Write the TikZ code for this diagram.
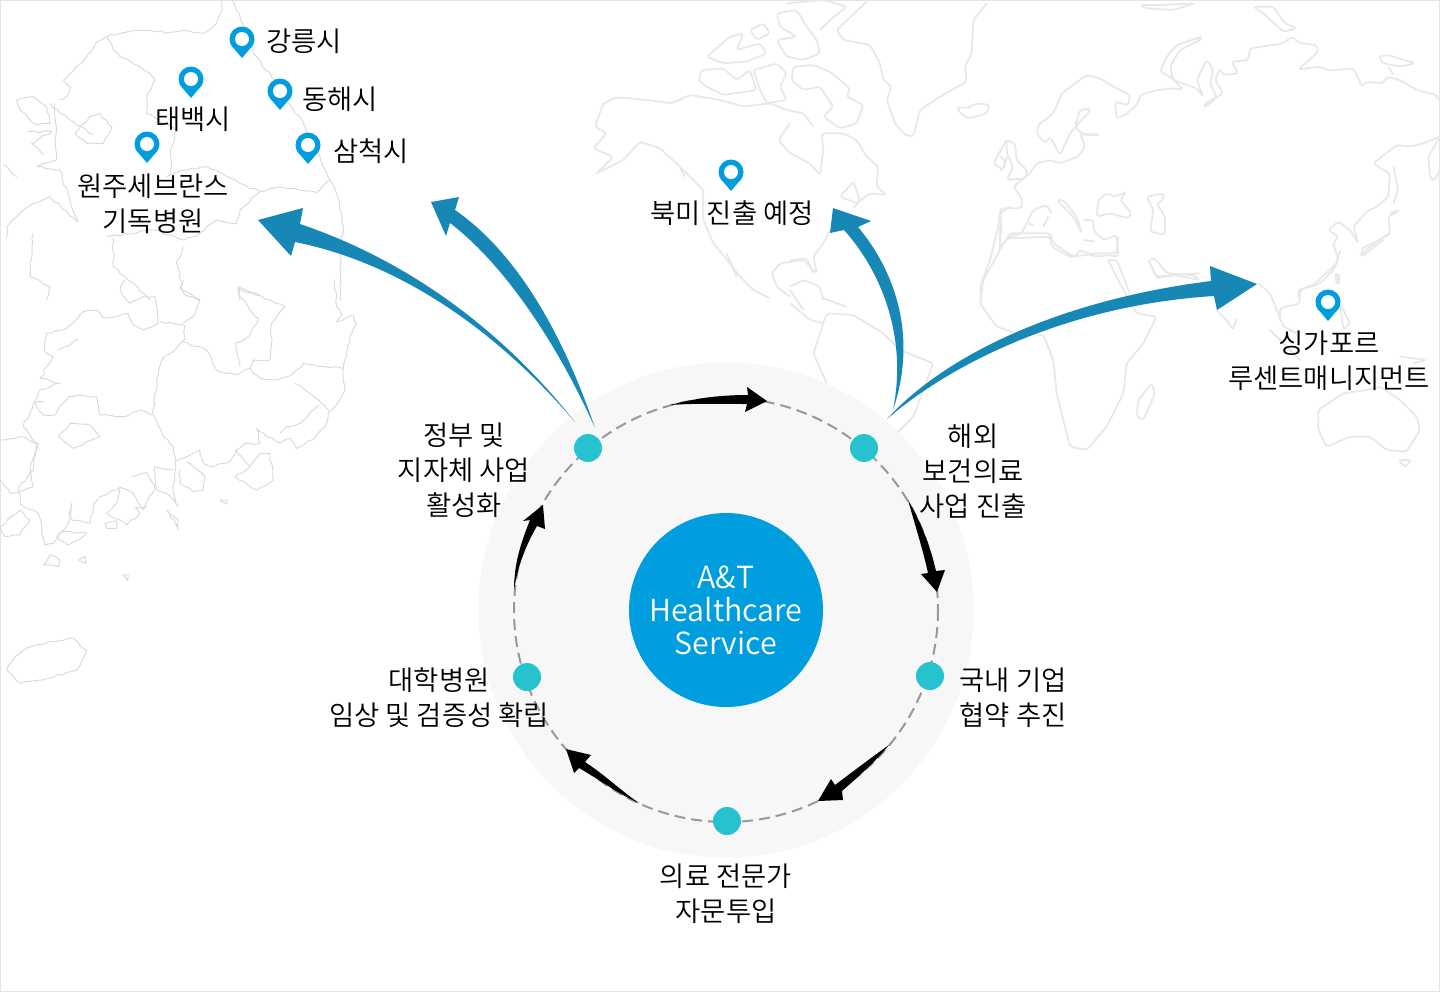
\documentclass[tikz,border=0pt]{standalone}
\usepackage{fontspec}
\usetikzlibrary{decorations.pathmorphing}
\newfontfamily\krfont{Noto Sans CJK KR DemiLight}
\definecolor{hubblue}{HTML}{009DDF}
\definecolor{flowblue}{HTML}{1787B5}
\definecolor{dotteal}{HTML}{26C3CE}
\definecolor{palegray}{HTML}{F7F7F7}
\definecolor{ringgray}{HTML}{999999}
\definecolor{worldgray}{HTML}{E8E8E8}
\definecolor{koreagray}{HTML}{D8D8D8}
\tikzset{
  worldline/.style={draw=worldgray,line width=0.9pt,line join=round,rounded corners=1.5pt},
  korealine/.style={draw=koreagray,line width=0.45pt,line join=round,decorate,decoration={random steps,segment length=2.5pt,amplitude=0.6pt}},
  flowarrow/.style={fill=flowblue},
  turnarrow/.style={fill=black},
  stopdot/.style={circle,fill=dotteal,minimum size=14pt,inner sep=0pt},
  txt/.style={font=\krfont\fontsize{13.7}{17.6}\selectfont,align=center,inner sep=0pt},
  mappin/.pic={
    \fill[hubblue] (0,0) circle [radius=12.5];
    \fill[hubblue] (-10.8,6.3) -- (0,19) -- (10.8,6.3) -- cycle;
    \fill[white] (0,0) circle [radius=7];
  }
}
\begin{document}
\begin{tikzpicture}[x=0.5pt,y=-0.5pt]
  \useasboundingbox (0,0) rectangle (1440,992);
  \fill[white] (0,0) rectangle (1440,992);
  \draw[draw=koreagray!70,line width=0.6pt] (0.5,0.5) rectangle (1439.5,991.5);

  \begin{scope}[shift={(0,0)},scale=1/3]
    \draw[korealine] (665,0) -- (668,30) -- (650,70) -- (610,100) -- (560,92) -- (510,97) -- (420,90) -- (320,110) -- (290,125) -- (260,170) -- (190,240) -- (212,262) -- (205,285) -- (180,300);
    \draw[korealine] (695,0) -- (720,50) -- (760,160) -- (830,250) -- (915,380) -- (960,470) -- (990,540) -- (1010,580) -- (1030,680) -- (1020,770) -- (1020,900);
    \draw[korealine] (320,110) -- (340,150) -- (360,170) -- (420,200) -- (465,240) -- (440,290) -- (440,340) -- (490,370) -- (530,390) -- (515,440) -- (510,520);
    \draw[korealine] (150,310) -- (180,340) -- (280,405);
    \draw[korealine] (225,400) -- (270,350) -- (300,340) -- (335,380) -- (310,430) -- (260,430) -- (225,400);
    \draw[korealine] (50,300) -- (100,290) -- (140,320) -- (150,370) -- (110,375) -- (60,330) -- cycle;
    \draw[korealine] (165,310) -- (170,480) -- (110,500) -- (180,510) -- (210,600) -- (232,665) -- (150,590) -- (100,610) -- (60,640) -- (20,680) -- (20,715);
    \draw[korealine] (85,395) -- (155,395) -- (95,430) -- (130,465);
    \draw[korealine] (50,530) -- (10,495);
    \draw[korealine] (500,530) -- (560,510) -- (620,500) -- (680,530) -- (720,550) -- (780,575) -- (820,565) -- (880,565) -- (950,578) -- (990,540);
    \draw[korealine] (780,575) -- (720,630) -- (710,670) -- (650,660) -- (600,700) -- (550,720) -- (460,690) -- (320,710);
    \draw[korealine] (340,715) -- (340,800) -- (400,850) -- (450,900);
    \draw[korealine] (550,740) -- (530,790) -- (550,880) -- (600,900);
    \draw[korealine] (100,700) -- (90,830) -- (150,860) -- (140,900);
    \draw[korealine] (720,900) -- (715,860) -- (780,885);
  \end{scope}

  \begin{scope}[shift={(0,280)},scale=1/3]
    \draw[korealine] (1005,0) -- (1010,80) -- (1025,105) -- (1010,125) -- (1060,105) -- (1070,130) -- (1050,170) -- (1030,265) -- (1035,330) -- (1005,380) -- (985,395) -- (975,440) -- (935,480) -- (890,505) -- (870,475) -- (840,490) -- (800,470) -- (770,445) -- (780,490) -- (735,490) -- (710,510) -- (690,545) -- (640,560) -- (610,550) -- (600,510) -- (570,525) -- (525,545) -- (520,640) -- (535,680) -- (500,640) -- (470,630) -- (465,560) -- (520,570);
    \draw[korealine] (540,570) -- (540,610) -- (580,635) -- (610,630) -- (615,590) -- (580,560) -- (560,545);
    \draw[korealine] (705,510) -- (750,560) -- (705,590) -- (770,630) -- (820,600) -- (810,520) -- (780,520) -- (750,560);
    \draw[korealine] (395,590) -- (440,578) -- (465,625) -- (430,690) -- (400,640) -- (360,622) -- (350,670) -- (320,700) -- (380,735) -- (420,700) -- (405,682) -- (440,680);
    \draw[korealine] (360,622) -- (300,650) -- (282,670) -- (270,730) -- (215,720) -- (215,670) -- (205,730) -- (160,790) -- (135,795) -- (115,700) -- (60,670) -- (55,625) -- (100,570) -- (110,490) -- (80,450) -- (70,440) -- (100,370) -- (120,330) -- (180,310) -- (120,295) -- (160,230) -- (135,215) -- (140,160) -- (200,145) -- (250,95) -- (290,90) -- (310,115) -- (385,100) -- (400,135) -- (430,150) -- (475,130) -- (465,50) -- (430,50) -- (390,70) -- (360,30) -- (375,0);
    \draw[korealine] (130,365) -- (105,370) -- (130,405) -- (165,405) -- (205,350) -- (230,345) -- (290,350) -- (300,405) -- (370,410) -- (420,390) -- (460,405) -- (470,300) -- (485,240) -- (550,185) -- (555,135) -- (480,125);
    \draw[korealine] (460,405) -- (490,470) -- (520,500) -- (525,540);
    \draw[korealine] (550,185) -- (620,210) -- (650,270) -- (710,285) -- (750,265) -- (760,240) -- (810,240) -- (815,130) -- (855,80) -- (810,60) -- (715,25) -- (720,50) -- (775,115) -- (745,170) -- (705,190) -- (720,260);
    \draw[korealine] (750,265) -- (780,295) -- (830,300) -- (880,280) -- (910,250) -- (975,260) -- (1030,265);
    \draw[korealine] (885,310) -- (955,360) -- (985,390);
    \draw[korealine] (955,375) -- (900,430) -- (860,440) -- (840,460);
    \draw[korealine] (550,130) -- (580,110) -- (600,60) -- (540,25) -- (550,0);
    \draw[korealine] (175,470) -- (210,430) -- (270,435) -- (300,470) -- (220,505) -- cycle;
    \draw[korealine] (175,210) -- (235,178);
    \draw[korealine] (0,480) -- (60,470) -- (115,490) -- (90,560) -- (100,620) -- (30,640) -- (0,600);
    \draw[korealine] (60,690) -- (90,720) -- (60,765) -- (15,770) -- (0,740) -- cycle;
    \draw[korealine] (170,770) -- (190,755) -- (260,760) -- (205,795) -- cycle;
    \draw[korealine] (20,1170) -- (45,1130) -- (70,1110) -- (150,1085) -- (220,1075) -- (260,1110) -- (230,1170) -- (120,1200) -- (60,1210) -- cycle;
    \draw[korealine] (130,855) -- (150,825) -- (180,840) -- (175,860) -- cycle;
    \draw[korealine] (235,840) -- (255,828) -- (258,850) -- cycle;
    \draw[korealine] (370,885) -- (385,885) -- (383,902) -- cycle;
    \draw[korealine] (315,730) -- (350,722) -- (350,745) -- (320,745) -- cycle;
    \draw[korealine] (660,660) -- (682,660) -- (680,672) -- cycle;
    \draw[korealine] (500,690) -- (535,720) -- (535,748) -- cycle;
  \end{scope}

  \begin{scope}[shift={(590,0)},scale=1/3]
    \draw[worldline] (20,520) -- (100,480) -- (150,425) -- (210,445) -- (270,500) -- (340,570) -- (340,660) -- (370,730) -- (420,790) -- (450,830) -- (490,870) -- (540,895);
    \draw[worldline] (20,520) -- (70,470) -- (10,445) -- (50,400) -- (15,380) -- (40,310) -- (80,292) -- (120,295) -- (170,300) -- (245,310) -- (300,285) -- (390,300) -- (460,320) -- (540,310) -- (590,330) -- (640,340) -- (670,380);
    \draw[worldline] (600,370) -- (565,420) -- (600,460) -- (660,490) -- (690,525) -- (700,450) -- (695,400) -- (760,400) -- (800,420) -- (830,470) -- (865,500) -- (860,560) -- (890,585) -- (840,580) -- (800,610) -- (750,590) -- (790,545) -- (810,600) -- (790,625);
    \draw[worldline] (720,690) -- (700,730) -- (670,770) -- (680,820) -- (640,780) -- (570,790) -- (545,820) -- (560,860) -- (600,890);
    \draw[worldline] (830,5) -- (740,90) -- (760,120) -- (840,135) -- (870,190) -- (880,240) -- (905,260) -- (890,300) -- (915,370) -- (945,405) -- (970,410) -- (990,330) -- (1050,290) -- (1130,245) -- (1125,200) -- (1145,160) -- (1150,60) -- (1190,10);
    \draw[worldline] (1100,320) -- (1130,325) -- (1160,310) -- (1200,315) -- (1190,340) -- (1140,355) -- (1115,345) -- cycle;
    \draw[worldline] (350,170) -- (420,110) -- (460,100) -- (440,150) -- (510,130) -- (530,160) -- (470,185) -- (400,190) -- cycle;
    \draw[worldline] (560,40) -- (620,30) -- (650,80) -- (680,120) -- (690,160) -- (640,180) -- (590,170) -- (560,120) -- (620,110) -- (570,80) -- cycle;
    \draw[worldline] (335,210) -- (400,205) -- (440,240) -- (480,210) -- (500,270) -- (400,285) -- (350,260) -- (325,240) -- cycle;
    \draw[worldline] (610,200) -- (670,195) -- (720,215) -- (780,265) -- (770,290) -- (820,315) -- (800,370) -- (750,385) -- (700,350) -- (730,320) -- (690,260) -- (640,270) -- (605,240) -- cycle;
    \draw[worldline] (490,210) -- (560,190) -- (590,220) -- (570,260) -- (590,300) -- (530,310) -- (510,270) -- cycle;
    \draw[worldline] (590,10) -- (700,0) -- (770,20) -- (720,60) -- (690,90);
    \draw[worldline] (480,90) -- (520,70) -- (540,100) -- (500,120) -- cycle;
    \draw[worldline] (410,760) -- (440,830);
    \draw[worldline] (270,505) -- (285,530);
    \draw[worldline] (1250,420) -- (1210,490) -- (1240,510) -- (1250,470);
    \draw[worldline] (1260,620) -- (1230,640) -- (1225,680) -- (1200,780) -- (1170,860) -- (1175,900);
  \end{scope}

  \begin{scope}[shift={(1000,0)},scale=1/3]
    \draw[worldline] (90,520) -- (110,490) -- (150,480) -- (180,490) -- (235,470) -- (255,440) -- (240,400) -- (300,405) -- (250,405) -- (225,380) -- (240,330) -- (265,325) -- (270,335) -- (235,370) -- (210,400) -- (180,465) -- (150,410) -- (135,430) -- (110,400) -- (115,375) -- (160,340) -- (185,280) -- (260,225) -- (300,235) -- (340,260) -- (390,285) -- (385,315) -- (345,305) -- (350,355) -- (375,345) -- (415,310) -- (420,285) -- (470,270) -- (520,265) -- (550,270) -- (510,230) -- (480,215) -- (500,170) -- (530,135) -- (605,110) -- (600,120) -- (540,150) -- (510,200) -- (520,240) -- (590,265) -- (610,290) -- (590,240) -- (620,180) -- (640,210) -- (630,250) -- (650,290) -- (620,320) -- (610,315) -- (670,280) -- (645,240) -- (660,205) -- (670,225) -- (715,220) -- (695,185) -- (745,180) -- (750,145) -- (850,130) -- (875,110) -- (900,130) -- (950,135) -- (955,155) -- (910,195) -- (895,208) -- (960,200) -- (990,212) -- (1060,205) -- (1075,235) -- (1085,260) -- (1100,245) -- (1150,250) -- (1160,230) -- (1200,240) -- (1250,270) -- (1310,285) -- (1315,300);
    \draw[worldline] (1320,410) -- (1270,430) -- (1230,440) -- (1190,435) -- (1120,490) -- (1150,510) -- (1170,520) -- (1165,590) -- (1130,620) -- (1100,635) -- (1060,680) -- (1075,730) -- (1050,690) -- (1015,665) -- (985,690) -- (1015,710) -- (1000,730) -- (1015,780) -- (1000,810) -- (960,850) -- (900,870) -- (900,890);
    \draw[worldline] (1180,500) -- (1195,570) -- (1180,610);
    \draw[worldline] (1170,640) -- (1200,630) -- (1165,650) -- (1170,700) -- (1130,725) -- (1085,745) -- (1085,770) -- (1150,720);
    \draw[worldline] (1320,410) -- (1285,470) -- (1290,530) -- (1300,545) -- (1320,510);
    \draw[worldline] (420,15) -- (480,15) -- (585,10) -- (520,30) -- (440,25) -- cycle;
    \draw[worldline] (760,20) -- (820,20) -- (855,70) -- (890,85) -- (850,95) -- (790,40) -- cycle;
    \draw[worldline] (1135,170) -- (1165,165) -- (1245,190) -- (1200,200) -- (1150,190) -- cycle;
    \draw[worldline] (1165,200) -- (1180,225);
    \draw[worldline] (20,420) -- (45,430) -- (50,480) -- (80,510) -- (80,535) -- (20,540) -- (40,500) -- (20,460) -- cycle;
    \draw[worldline] (0,470) -- (15,480) -- (10,510) -- (0,510);
    \draw[worldline] (90,520) -- (40,560) -- (65,595) -- (65,625) -- (0,625) -- (5,700);
    \draw[worldline] (0,740) -- (30,710) -- (65,700) -- (100,630) -- (140,615) -- (155,640);
    \draw[worldline] (130,680) -- (145,650);
    \draw[worldline] (170,600) -- (220,650) -- (245,700) -- (230,650) -- (190,600) -- cycle;
    \draw[worldline] (290,650) -- (295,600) -- (320,580) -- (345,590) -- (380,575) -- (360,600) -- (395,640) -- (385,655) -- (330,640) -- cycle;
    \draw[worldline] (250,660) -- (280,660) -- (280,690) -- (310,720) -- (350,705) -- (355,770) -- (325,765) -- (285,770) -- (240,750) -- (220,775) -- (155,740) -- (150,710) -- (30,715);
    \draw[worldline] (440,590) -- (490,580) -- (490,600) -- (470,610) -- (495,650) -- (495,705) -- (450,695) -- (460,630) -- cycle;
    \draw[worldline] (325,780) -- (350,780) -- (390,880);
    \draw[worldline] (445,780) -- (465,775) -- (500,820) -- (580,825) -- (600,840) -- (520,825) -- (470,835) -- cycle;
    \draw[worldline] (250,720) -- (285,725);
    \draw[worldline] (85,670) -- (100,675);
    \draw[worldline] (1005,820) -- (1020,825) -- (1010,850) -- cycle;
  \end{scope}

  \begin{scope}[shift={(790,220)},scale=1/3]
    \draw[worldline] (630,20) -- (630,90) -- (580,180) -- (570,250) -- (620,320) -- (680,340) -- (760,345) -- (790,420) -- (800,520) -- (840,680) -- (890,690) -- (950,620) -- (1000,520) -- (1010,430) -- (1060,370) -- (1100,290) -- (1040,280) -- (1000,210) -- (955,120);
    \draw[worldline] (630,90) -- (660,40) -- (780,40) -- (790,70) -- (850,110) -- (920,100) -- (980,100) -- (985,50);
    \draw[worldline] (1085,490) -- (1095,520) -- (1060,600) -- (1040,590) -- (1045,540) -- cycle;
    \draw[worldline] (0,250) -- (60,300) -- (100,310) -- (110,280) -- (190,285) -- (280,340) -- (330,390) -- (430,430) -- (400,510) -- (370,590) -- (320,640);
    \draw[worldline] (100,310) -- (70,400) -- (110,490);
    \draw[worldline] (0,120) -- (50,115) -- (70,160);
    \draw[worldline] (0,200) -- (40,180) -- (90,200) -- (100,240);
    \draw[worldline] (100,235) -- (170,260);
    \draw[worldline] (0,210) -- (20,240) -- (40,270);
    \draw[worldline] (1075,120) -- (1100,170) -- (1230,160);
  \end{scope}

  \begin{scope}[shift={(1200,230)},scale=1/3]
    \draw[worldline] (175,160) -- (210,190) -- (230,240) -- (250,290) -- (290,310);
    \draw[worldline] (240,270) -- (240,235) -- (300,220) -- (295,180) -- (340,165) -- (410,100) -- (420,60);
    \draw[worldline] (50,240) -- (80,270) -- (100,300) -- (110,265);
    \draw[worldline] (420,220) -- (450,280) -- (430,300) -- cycle;
    \draw[worldline] (405,145) -- (420,140) -- (415,165) -- cycle;
    \draw[worldline] (210,300) -- (260,350) -- (300,390);
    \draw[worldline] (600,380) -- (680,390) -- (640,400);
    \draw[worldline] (355,540) -- (400,510) -- (430,490) -- (500,480) -- (540,470) -- (600,510) -- (650,560) -- (660,600) -- (620,665) -- (560,660) -- (510,620) -- (450,620) -- (380,650) -- (355,600) -- cycle;
    \draw[worldline] (595,690) -- (635,690) -- (615,712) -- cycle;
    \draw[worldline] (480,75) -- (530,35) -- (570,10);
  \end{scope}

  \node[circle,fill=palegray,minimum size=247.5pt,inner sep=0pt] (backdisc) at (726,610) {};
  \draw[ringgray,line width=1pt,dash pattern=on 5.5pt off 3pt] (backdisc.center) circle [radius=212];
  \node[circle,fill=hubblue,minimum size=97pt,inner sep=0pt,text=white,align=center,font=\krfont\fontsize{15.2}{16.5}\selectfont] (hub) at (726,610) {A\&T\\Healthcare\\Service};

  \node[stopdot] (govdot) at (588,448) {};
  \node[stopdot] (abroaddot) at (864,448) {};
  \node[stopdot] (firmdot) at (930,676) {};
  \node[stopdot] (expertdot) at (727,821) {};
  \node[stopdot] (unidot) at (527,677) {};

  \coordinate (govtail) at (575,422);
  \coordinate (citytail) at (595,428);
  \coordinate (natail) at (893,410);
  \coordinate (sgtail) at (887,419);
  \fill[flowarrow] (govtail) .. controls (520,352) and (430,268) .. (300,224) -- (303,208) -- (258,220) -- (291,256) -- (295,242) .. controls (395,262) and (492,325) .. (govtail);
  \fill[flowarrow] (citytail) .. controls (565,340) and (520,255) .. (455,210) -- (459,197) -- (431,202) -- (446,236) -- (450,223) .. controls (505,265) and (558,345) .. (citytail);
  \fill[flowarrow] (natail) .. controls (920,330) and (890,265) .. (858,227) -- (871,221) -- (833,208) -- (830,233) -- (844,230) .. controls (880,270) and (908,335) .. (natail);
  \fill[flowarrow] (sgtail) .. controls (945,355) and (1060,300) .. (1211,281) -- (1210,266) -- (1257,284) -- (1217,310) -- (1214,296) .. controls (1070,305) and (953,362) .. (sgtail);

  \coordinate (toptail) at (670,405);
  \coordinate (righttail) at (908,500);
  \coordinate (lowtail) at (889,745);
  \coordinate (bottail) at (639,803);
  \coordinate (lefttail) at (514,590);
  \fill[turnarrow] (toptail) .. controls (700,397) and (725,395) .. (748,395) -- (747,387) -- (767,401) -- (745,412) -- (747,404) .. controls (720,404) and (700,403) .. (toptail);
  \fill[turnarrow] (righttail) .. controls (920,520) and (930,545) .. (936,571) -- (945,570) -- (937,592) -- (921,574) -- (928,573) .. controls (923,550) and (915,525) .. (righttail);
  \fill[turnarrow] (lowtail) .. controls (875,762) and (860,775) .. (842,791) -- (843,800) -- (818,801) -- (831,779) -- (835,785) .. controls (855,770) and (872,757) .. (lowtail);
  \fill[turnarrow] (bottail) .. controls (620,795) and (600,780) .. (579,768) -- (574,773) -- (566,749) -- (591,755) -- (585,762) .. controls (605,775) and (620,790) .. (bottail);
  \fill[turnarrow] (lefttail) .. controls (518,565) and (526,545) .. (537,526) -- (545,529) -- (543,505) -- (523,521) -- (530,520) .. controls (520,545) and (514,565) .. (lefttail);

  \pic at (242,39) {mappin};
  \pic at (191,79) {mappin};
  \pic at (280,91) {mappin};
  \pic at (308,145) {mappin};
  \pic at (147,144) {mappin};
  \pic at (731,172) {mappin};
  \pic at (1328,302) {mappin};

  \node[txt] (gangneung) at (304,41) {강릉시};
  \node[txt] (donghae) at (340,99) {동해시};
  \node[txt] (taebaek) at (193,119) {태백시};
  \node[txt] (samcheok) at (371,151) {삼척시};
  \node[txt] (wonju) at (153,204) {원주세브란스\\기독병원};
  \node[txt] (northam) at (732,213) {북미 진출 예정};
  \node[txt] (singapore) at (1329,361) {싱가포르\\루센트매니지먼트};
  \node[txt] (abroad) at (973,471) {해외\\보건의료\\사업 진출};
  \node[txt] (firm) at (1013,698) {국내 기업\\협약 추진};
  \node[txt] (expert) at (726,894) {의료 전문가\\자문투입};
  \node[txt] (uni) at (439,698) {대학병원\\임상 및 검증성 확립};
  \node[txt] (gov) at (464,470) {정부 및\\지자체 사업\\활성화};
\end{tikzpicture}
\end{document}
